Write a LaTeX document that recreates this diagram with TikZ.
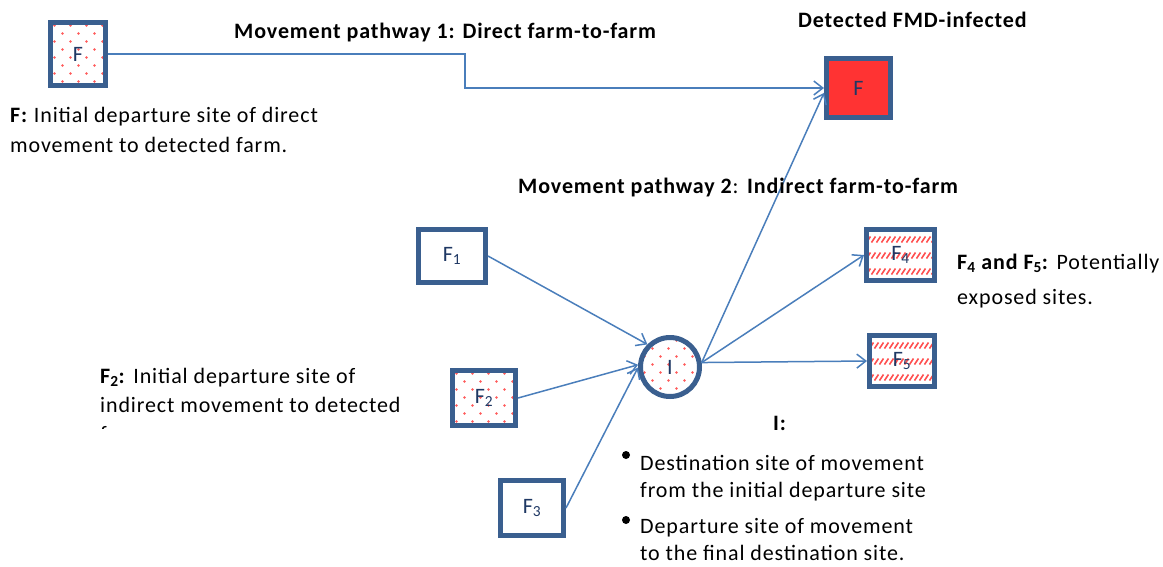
\documentclass[tikz,border=0pt]{standalone}
\usepackage{fontspec}
\setmainfont{Carlito}[LetterSpace=4]
\usetikzlibrary{arrows.meta}

\definecolor{boxblue}{HTML}{3A5F8F}
\definecolor{linkblue}{HTML}{4A7EBB}
\definecolor{labelnavy}{HTML}{1F3864}
\definecolor{alarmred}{HTML}{FF3333}
\definecolor{dotred}{HTML}{FF5A5A}
\definecolor{hatchred}{HTML}{FF5050}

\tikzset{
  txt/.style={inner sep=0pt, anchor=base west, font=\fontsize{22}{26}\selectfont},
  farm/.style={rectangle, draw=boxblue, line width=5pt, fill=white,
    text=labelnavy, font=\fontsize{22}{24}\selectfont, inner sep=0pt},
  site/.style={circle, draw=boxblue, line width=5pt, fill=white,
    text=labelnavy, font=\fontsize{22}{24}\selectfont, inner sep=0pt, minimum size=59pt},
  bullet/.style={circle, fill=black, inner sep=0pt, minimum size=8pt},
  % staggered red dots
  dotfill/.style={path picture={
    \coordinate (pp) at (path picture bounding box.north west);
    \foreach \r in {0,...,9}{\foreach \c in {0,...,5}{
      \pgfmathsetmacro\dx{\c*16+mod(\r,2)*8+4}
      \pgfmathsetmacro\dy{-\r*8-3}
      \fill[dotred] ([shift={(\dx pt,\dy pt)}]pp) circle (1.4pt);}}}},
  % bands of short red diagonal strokes
  hatchfill/.style={path picture={
    \coordinate (pp) at (path picture bounding box.north west);
    \foreach \r in {0,...,3}{\foreach \c in {0,...,16}{
      \pgfmathsetmacro\dx{\c*5}
      \pgfmathsetmacro\dy{-\r*16-13}
      \draw[hatchred, line width=1.6pt]
        ([shift={(\dx pt,\dy pt)}]pp) -- ++(4pt,6pt);}}}},
  flow/.style={draw=linkblue, line width=1.5pt, -{Straight Barb[length=9pt,width=14pt,line width=1.5pt]}},
}

\begin{document}
\begin{tikzpicture}[x=1pt,y=-1pt]
\useasboundingbox (0,0) rectangle (1163,566);

% farms and intermediate site
\node[farm, dotfill, minimum width=55pt, minimum height=63pt] (F0) at (78,54) {F};
\node[farm, fill=alarmred, minimum width=64pt, minimum height=59pt] (Fd) at (858.5,88) {F};
\node[farm, minimum width=67pt, minimum height=53pt] (F1) at (452,256) {F\textsubscript{1}};
\node[farm, dotfill, minimum width=63pt, minimum height=55pt] (F2) at (484,398) {F\textsubscript{2}};
\node[farm, minimum width=63pt, minimum height=55pt] (F3) at (532,508) {F\textsubscript{3}};
\node[farm, hatchfill, minimum width=68pt, minimum height=51pt] (F4) at (900.5,255) {F\textsubscript{4}};
\node[farm, hatchfill, minimum width=65pt, minimum height=51pt] (F5) at (902,361) {F\textsubscript{5}};
\node[site, dotfill] (I) at (670,367) {I};

% movement pathway 1
\coordinate (jog) at (465,72);
\draw[flow] (F0.east) -| (jog) |- (Fd.west);

% movement pathway 2
\draw[flow] (F1.east) -- (I.135);
\draw[flow] (F2.east) -- (I.176);
\draw[flow] (F3.east) -- (I.181);
\draw[flow] (I.8) -- (Fd.188);
\draw[flow] (I.8) -- (F4.west);
\draw[flow] (I.8) -- (F5.west);

% headings
\node[txt] (h1) at (234,38) {\bfseries Movement pathway 1: Direct farm-to-farm};
\node[txt] (hd) at (798,27) {\bfseries Detected FMD-infected};
\node[txt] (h2) at (518,193) {\textbf{Movement pathway 2}: \textbf{Indirect farm-to-farm}};

% captions
\node[txt] (c0a) at (10,122) {\textbf{F:} Initial departure site of direct};
\node[txt] (c0b) at (10,152) {movement to detected farm.};

\node[txt] (c4a) at (957,269) {\textbf{F\textsubscript{4} and F\textsubscript{5}:} Potentially};
\node[txt] (c4b) at (957,304) {exposed sites.};

\node[txt] (c2a) at (100,383) {\textbf{F\textsubscript{2}:} Initial departure site of};
\node[txt] (c2b) at (100,412) {indirect movement to detected};
\begin{scope}
  \clip (90,415) rectangle (420,428);
  \node[txt] (c2c) at (100,441) {farm.};
\end{scope}

\node[txt] (ci) at (773,430) {\bfseries I:};
\node[bullet] (b1) at (626,455) {};
\node[txt] (ci1a) at (640,470) {Destination site of movement};
\node[txt] (ci1b) at (640,497) {from the initial departure site};
\node[bullet] (b2) at (626,520) {};
\node[txt] (ci2a) at (640,533) {Departure site of movement};
\node[txt] (ci2b) at (640,560) {to the final destination site.};
\end{tikzpicture}
\end{document}
